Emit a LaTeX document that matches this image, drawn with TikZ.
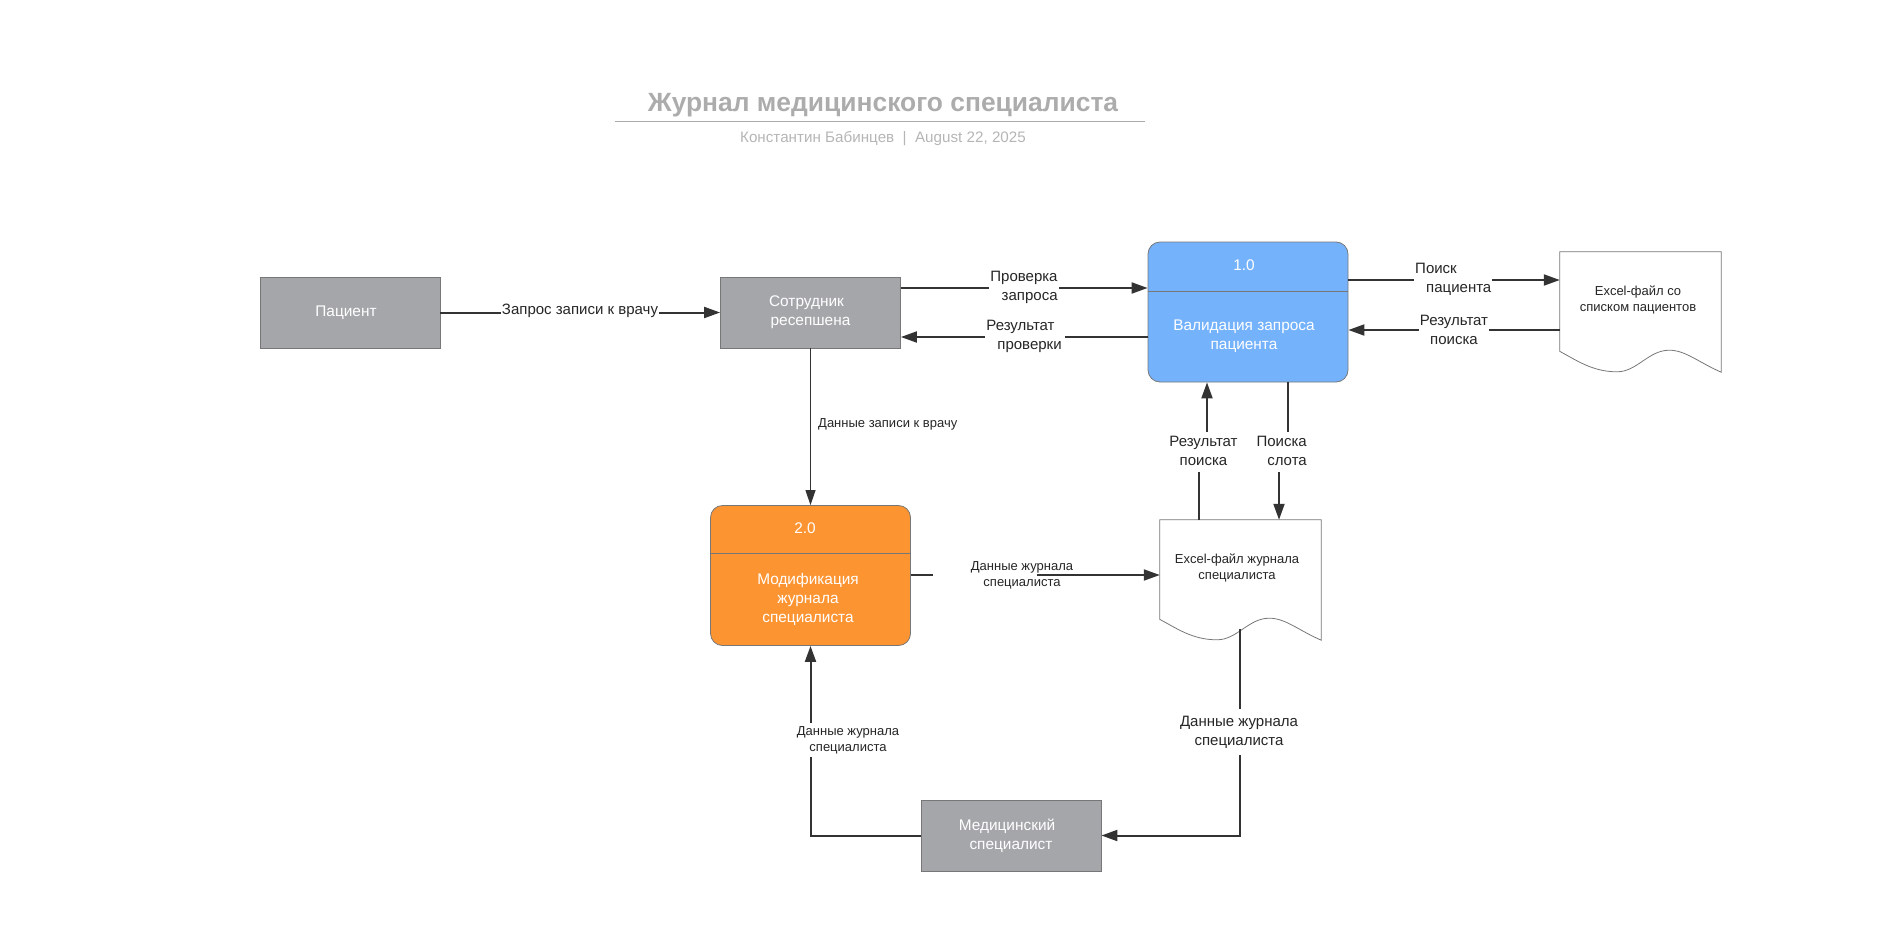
\documentclass[tikz,border=0pt]{standalone}
\usepackage{fontspec}
\setmainfont{Liberation Sans}
\usetikzlibrary{arrows.meta,calc}
\definecolor{entgray}{HTML}{A5A6AA}
\definecolor{bordgray}{HTML}{777777}
\definecolor{procblue}{HTML}{75B2FC}
\definecolor{procorange}{HTML}{FC9432}
\definecolor{linec}{HTML}{333333}
\definecolor{titlec}{HTML}{ACACAC}
\definecolor{subc}{HTML}{B5B5B5}
\definecolor{labc}{HTML}{262626}
\tikzset{
 fs15/.style={font=\fontsize{15.4}{19}\selectfont},
 entity/.style={draw=bordgray, line width=0.8pt, fill=entgray, minimum width=180pt, minimum height=71pt, text=white, align=center, fs15, inner sep=0pt},
 proc/.style={draw=bordgray, line width=0.8pt, rounded corners=12pt, minimum width=200pt, minimum height=140pt, inner sep=0pt},
 proctext/.style={text=white, align=center, fs15, inner sep=0pt},
 docholder/.style={minimum width=161pt, minimum height=120pt, inner sep=0pt},
 docline/.style={draw=bordgray, line width=0.8pt, fill=white},
 doctext/.style={font=\fontsize{13}{16}\selectfont, text=labc, align=center, inner sep=0pt},
 flow/.style={draw=linec, line width=2pt, -{Triangle[length=16pt,width=11pt]}},
 plain/.style={draw=linec, line width=2pt},
 thinflow/.style={draw=linec, line width=1pt, -{Triangle[length=15pt,width=10pt]}},
 lab/.style={font=\fontsize{15}{19}\selectfont, text=labc, fill=white, inner sep=1pt, align=center},
 slab/.style={font=\fontsize{13}{16}\selectfont, text=labc, inner sep=1pt, align=center},
}
\newcommand{\drawdocshape}[1]{%
 \draw[docline] (#1.north west) -- (#1.north east) -- (#1.south east)
 .. controls ($(#1.north west)+(138.5,110.4)$) and ($(#1.north west)+(125.6,98.4)$) .. ($(#1.north west)+(109.5,98.4)$)
 .. controls ($(#1.north west)+(88.6,98.4)$) and ($(#1.north west)+(77.3,120)$) .. ($(#1.north west)+(57.2,120)$)
 .. controls ($(#1.north west)+(32.2,120)$) and ($(#1.north west)+(16.1,108)$) .. ($(#1.north west)+(0,99.6)$)
 -- cycle;}
\begin{document}
\begin{tikzpicture}[x=1pt,y=-1pt]
\useasboundingbox (0,0) rectangle (1882,932);
% title
\node[font=\bfseries\fontsize{26.4}{32}\selectfont, text=titlec] (title) at (883,105) {Журнал медицинского специалиста};
\coordinate (rl) at (615,121.5); \coordinate (rr) at (1145,121.5);
\draw[titlec, line width=1.5pt] (rl) -- (rr);
\node[font=\fontsize{15.2}{18}\selectfont, text=subc] (sub) at (883,138.5) {Константин Бабинцев \ | \ August 22, 2025};
% entities
\node[entity] (pat) at (350,312.5) {Пациент\hspace*{8pt}};
\node[entity] (rec) at (810.5,312.5) {Сотрудник\hspace*{8pt}\\ресепшена};
\node[entity] (med) at (1011,835.5) {Медицинский\hspace*{8pt}\\специалист};
% process 1.0
\node[proc, fill=procblue] (p1) at (1248,312) {};
\draw[bordgray, line width=0.8pt] (p1.west |- 0,291) -- (p1.east |- 0,291);
\node[proctext] (p1n) at (1244,265) {1.0};
\node[proctext] (p1t) at (1244,336) {Валидация запроса\\пациента};
% process 2.0
\node[proc, fill=procorange] (p2) at (810.5,575.5) {};
\draw[bordgray, line width=0.8pt] (p2.west |- 0,553) -- (p2.east |- 0,553);
\node[proctext] (p2n) at (805,528) {2.0};
\node[proctext] (p2t) at (808,599) {Модификация\\журнала\\специалиста};
% documents
\node[docholder] (d1) at (1640.5,312) {};
\drawdocshape{d1}
\node[doctext] (d1t) at (1638,300) {Excel-файл со\\списком пациентов};
\node[docholder] (d2) at (1240.5,580) {};
\drawdocshape{d2}
\node[doctext] (d2t) at (1237,568) {Excel-файл журнала\\специалиста};
% connectors
\draw[flow] (pat) -- (rec);
\node[lab] (l1) at (580,311) {Запрос записи к врачу};
\draw[flow] (rec.east |- 0,288) -- (p1.west |- 0,288);
\node[lab, align=right] (l2) at (1024,287) {Проверка\\запроса};
\draw[flow] (p1.west |- 0,337) -- (rec.east |- 0,337);
\node[lab] (l3) at (1025,336.5) {Результат\rule{9pt}{0pt}\\\rule{9pt}{0pt}проверки};
\draw[flow] (p1.east |- 0,280) -- (d1.west |- 0,280);
\node[lab, align=left, anchor=west] (l4) at (1414,279) {Поиск\\\rule{11pt}{0pt}пациента};
\draw[flow] (d1.west |- 0,330) -- (p1.east |- 0,330);
\node[lab] (l5) at (1454,330) {Результат\\поиска};
\draw[thinflow] (rec.south) -- (p2.north);
\node[slab, anchor=west] (l6) at (817,424) {Данные записи к врачу};
\coordinate (a7) at (933,575); \coordinate (b7) at (1037,575);
\draw[plain] (p2.east |- a7) -- (a7);
\draw[flow] (b7) -- (d2.west |- b7);
\node[slab] (l7) at (1022,575) {Данные журнала\\специалиста};
\coordinate (a8) at (1199,472); \coordinate (b8) at (1207,432);
\draw[plain] (d2.north -| a8) -- (a8);
\draw[flow] (b8) -- (p1.south -| b8);
\node[lab, fill=none] (l8) at (1203.5,451) {Результат\\поиска};
\coordinate (a9) at (1288,432); \coordinate (b9) at (1279,472);
\draw[plain] (p1.south -| a9) -- (a9);
\draw[flow] (b9) -- (d2.north -| b9);
\node[lab, fill=none, align=right, anchor=east] (l9) at (1308,451) {Поиска\\слота};
\coordinate (s10) at (1240,629);
\draw[flow] (s10) |- (med.east);
\node[lab, inner ysep=7pt] (l10) at (1239,732) {Данные журнала\\специалиста};
\draw[flow] (med.west) -| (p2.south);
\node[slab, fill=white, inner ysep=3pt] (l11) at (848,740) {Данные журнала\\специалиста};
\end{tikzpicture}
\end{document}
